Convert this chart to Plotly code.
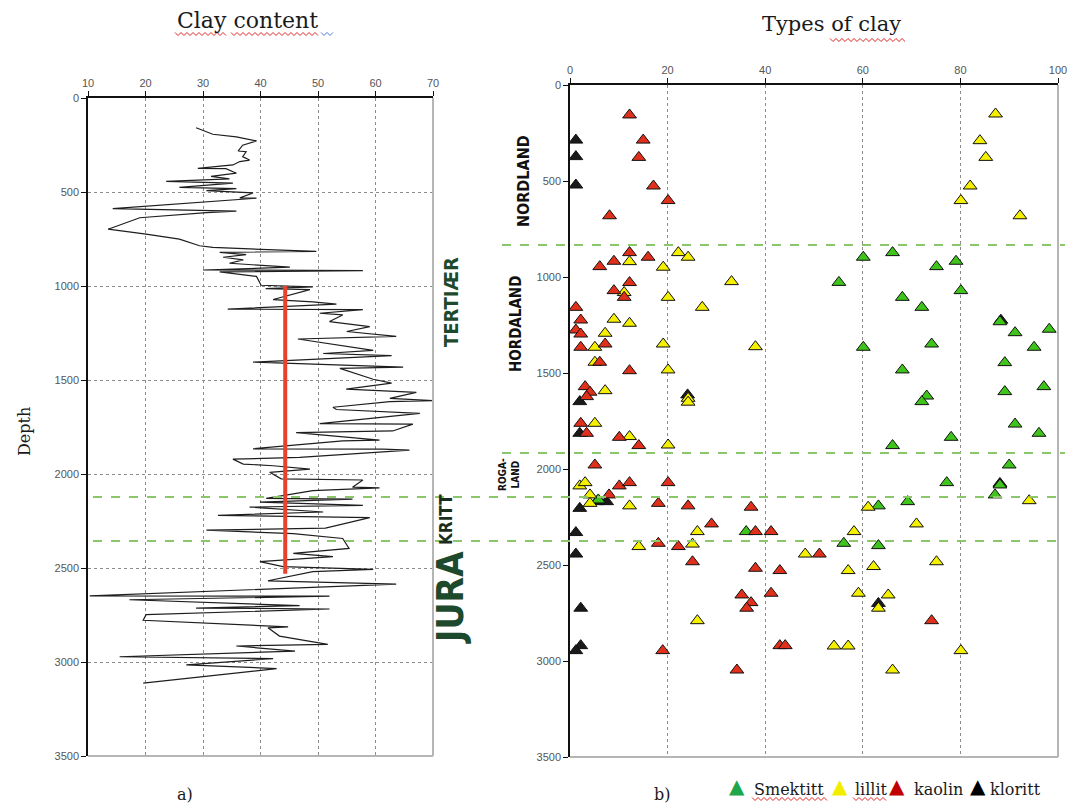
import plotly.graph_objects as go

W, H = 1076, 805

# ---------------- data: clay content (left panel) ----------------
clay_value = [28.8, 31.7, 35.8, 39.3, 36.9, 36.1, 37.5, 36.9, 38.1, 36.4, 35.2, 29.1, 34.0,
              35.8, 31.4, 34.6, 23.6, 35.2, 25.9, 35.8, 30.6, 38.7, 36.4, 39.3, 14.3, 35.8,
              30.6, 19.0, 13.5, 20.1, 25.9, 29.4, 31.7, 49.7, 32.9, 37.5, 33.5, 37.0, 34.6,
              45.1, 30.0, 57.8, 32.9, 39.3, 40.1, 49.1, 40.9, 48.6, 42.2, 49.1, 53.2, 34.3,
              57.8, 50.3, 54.3, 52.0, 59.0, 55.0, 63.6, 46.5, 59.6, 50.9, 62.8, 38.7, 64.8,
              53.8, 59.6, 62.8, 54.9, 67.1, 62.5, 70.0, 62.5, 52.6, 53.2, 67.7, 50.3, 66.5,
              63.0, 46.2, 60.7, 54.3, 38.7, 61.3, 65.9, 46.8, 35.2, 37.0, 42.2, 48.6, 41.6,
              43.6, 57.8, 56.0, 60.7, 49.1, 41.0, 56.0, 39.9, 57.8, 38.1, 50.9, 32.6, 59.0,
              51.3, 30.6, 45.7, 54.3, 55.4, 45.7, 52.6, 39.9, 43.9, 59.6, 49.1, 41.3, 63.6,
              10.3, 52.0, 17.2, 46.8, 28.8, 52.0, 20.1, 19.6, 44.8, 41.3, 43.3, 51.7, 35.8,
              46.0, 15.5, 42.2, 27.1, 42.8, 19.6]
clay_depth = [158, 193, 207, 228, 251, 282, 286, 312, 330, 338, 356, 374, 376,
              400, 417, 430, 444, 453, 475, 482, 493, 505, 531, 533, 588, 602,
              610, 637, 698, 724, 751, 786, 795, 816, 821, 833, 847, 861, 879,
              900, 915, 918, 925, 949, 996, 1005, 1014, 1019, 1072, 1084, 1096, 1123,
              1126, 1145, 1154, 1189, 1216, 1242, 1268, 1282, 1342, 1359, 1370, 1405, 1432,
              1438, 1496, 1517, 1549, 1566, 1598, 1610, 1615, 1645, 1657, 1678, 1732, 1735,
              1771, 1780, 1820, 1824, 1866, 1868, 1873, 1912, 1921, 1947, 1956, 1974, 1991,
              2026, 2032, 2070, 2074, 2088, 2130, 2134, 2150, 2167, 2176, 2202, 2220, 2232,
              2288, 2299, 2317, 2343, 2396, 2422, 2440, 2466, 2493, 2507, 2519, 2568, 2586,
              2648, 2650, 2669, 2700, 2713, 2718, 2748, 2778, 2813, 2818, 2862, 2906, 2915,
              2942, 2972, 2982, 3015, 3035, 3112]

avg_value = [44.3, 44.3]
avg_depth = [1000, 2530]

# ---------------- data: types of clay (right panel) ----------------
smektitt_pct = [60.1, 66.1, 79.1, 75.1, 55.1, 80.1, 68.1, 72.1, 88.1, 91.2, 98.2, 60.1, 74.1,
                95.1, 89.1, 68.1, 89.1, 97.1, 73.1, 72.1, 91.2, 96.1, 78.1, 66.1, 90.0,
                77.2, 88.1, 87.1, 69.2, 63.2, 56.1, 63.2, 36.1, 5.8]
smektitt_depth = [897, 873, 918, 946, 1028, 1071, 1106, 1158, 1233, 1290, 1272, 1366, 1349,
                  1366, 1446, 1484, 1597, 1571, 1620, 1649, 1766, 1814, 1835, 1878, 1979,
                  2071, 2083, 2135, 2170, 2192, 2387, 2399, 2326, 2161]

illit_pct = [87.2, 84.0, 85.2, 82.0, 80.1, 92.2,
             12.2, 22.2, 24.2, 19.1, 33.1, 11.1, 20.1, 27.1, 9.0, 12.2, 7.2, 5.1, 5.1, 19.1,
             38.0, 20.1, 7.2, 24.2, 24.2, 5.1, 12.2, 20.1,
             2.0, 3.1, 4.1, 4.1, 12.2, 26.1, 14.1, 25.1, 26.1,
             94.1, 61.1, 71.0, 58.2, 48.2, 75.1, 57.0, 62.2, 59.1, 65.2, 63.2, 54.1, 57.0,
             80.1, 66.1]
illit_depth = [151, 290, 377, 526, 602, 681,
               920, 873, 897, 949, 1024, 1081, 1106, 1158, 1220, 1241, 1293, 1366, 1444, 1349,
               1363, 1484, 1592, 1632, 1652, 1762, 1831, 1875,
               2088, 2071, 2135, 2179, 2192, 2326, 2404, 2391, 2790,
               2165, 2199, 2286, 2326, 2443, 2483, 2529, 2508, 2647, 2656, 2725, 2922, 2922,
               2946, 3047]

kaolin_pct = [12.2, 15.0, 14.1, 17.1, 20.1, 8.1, 12.2, 16.0, 9.0, 6.1, 12.2, 9.0, 11.1,
              1.2, 2.2, 1.2, 2.2, 2.2, 7.2, 6.1, 12.2, 3.1, 4.1, 3.4, 2.2, 3.4, 10.1, 14.1,
              5.1, 10.1, 12.2, 20.1, 8.0, 18.1, 24.2, 37.1, 29.0, 38.0, 41.2, 18.1, 22.2,
              25.1, 38.0, 43.0, 35.2, 41.2, 37.1, 36.2, 43.0, 44.1, 19.0, 34.2, 51.1, 74.1]
kaolin_depth = [156, 287, 377, 526, 602, 681, 873, 897, 918, 946, 1029, 1071, 1106,
                1158, 1224, 1276, 1297, 1366, 1349, 1444, 1488, 1571, 1600, 1623, 1762, 1814, 1835, 1878,
                1979, 2088, 2071, 2071, 2135, 2179, 2192, 2199, 2286, 2326, 2326, 2387, 2404,
                2483, 2517, 2529, 2656, 2647, 2696, 2725, 2920, 2920, 2946, 3047, 2443, 2790]

kloritt_pct = [1.2, 1.2, 1.2, 2.0, 2.0, 2.0, 5.5, 7.5, 1.2, 1.2, 2.2, 2.2, 1.2,
               88.3, 88.1, 63.2, 24.1]
kloritt_depth = [287, 373, 521, 1649, 1814, 2205, 2170, 2170, 2331, 2443, 2725, 2920, 2946,
                 1225, 2075, 2700, 1614]

left_ticks = [10, 20, 30, 40, 50, 60, 70]
right_ticks = [0, 20, 40, 60, 80, 100]
depth_ticks = [0, 500, 1000, 1500, 2000, 2500, 3000, 3500]


def px(x):
    return x / W


def py(y):
    return 1 - y / H


fig = go.Figure()

fig.add_trace(go.Scatter(x=clay_value, y=clay_depth, mode="lines",
                         line=dict(color="#1e1e1e", width=1.2),
                         xaxis="x", yaxis="y", showlegend=False, hoverinfo="skip"))
fig.add_trace(go.Scatter(x=avg_value, y=avg_depth, mode="lines",
                         line=dict(color="#e8412e", width=4),
                         xaxis="x", yaxis="y", showlegend=False))

mk = dict(symbol="triangle-up", size=12, line=dict(color="#111", width=1))
for xs, ys, col in [(kloritt_pct, kloritt_depth, "#1a1a1a"),
                    (smektitt_pct, smektitt_depth, "#3ec41a"),
                    (illit_pct, illit_depth, "#f4f000"),
                    (kaolin_pct, kaolin_depth, "#e0301c")]:
    fig.add_trace(go.Scatter(x=xs, y=ys, mode="markers",
                             marker=dict(color=col, **mk),
                             xaxis="x2", yaxis="y2", showlegend=False))

tickfont = dict(family="Liberation Sans, Arial, sans-serif", size=11, color="#555555")
axis_common = dict(showline=True, linecolor="#111", linewidth=1.5, ticks="outside",
                   ticklen=5, tickcolor="#111", tickwidth=1, tickfont=tickfont,
                   zeroline=False, gridcolor="#8c8c8c", griddash="dot", gridwidth=1,
                   automargin=False)

fig.update_layout(
    width=W, height=H,
    margin=dict(l=0, r=0, t=0, b=0, autoexpand=False),
    paper_bgcolor="white", plot_bgcolor="white",
    xaxis=dict(domain=[px(88), px(433)], range=[10, 70], side="top", anchor="y",
               tickvals=left_ticks, showgrid=True, **axis_common),
    yaxis=dict(domain=[py(756), py(98)], range=[3500, 0], anchor="x",
               tickvals=depth_ticks, showgrid=True, **axis_common),
    xaxis2=dict(domain=[px(570), px(1058)], range=[0, 100], side="top", anchor="y2",
                tickvals=right_ticks, showgrid=True, **axis_common),
    yaxis2=dict(domain=[py(757), py(85)], range=[3500, 0], anchor="x2",
                tickvals=depth_ticks, showgrid=False, **axis_common),
)

shapes = []
# gray right and bottom frame edges
for xr, yr in [("x", "y"), ("x2", "y2")]:
    shapes.append(dict(type="line", xref=f"{xr} domain", yref=f"{yr} domain",
                       x0=1, x1=1, y0=0, y1=1, line=dict(color="#b5b5b5", width=2)))
    shapes.append(dict(type="line", xref=f"{xr} domain", yref=f"{yr} domain",
                       x0=0, x1=1, y0=0, y1=0, line=dict(color="#b5b5b5", width=2)))

# green dashed boundaries
green = dict(color="#8cc66a", width=2, dash="dash")
for y in [497, 541]:
    shapes.append(dict(type="line", xref="paper", yref="paper",
                       x0=px(93), x1=px(1065), y0=py(y), y1=py(y), line=green))
for y in [245, 453]:
    shapes.append(dict(type="line", xref="paper", yref="paper",
                       x0=px(502), x1=px(1065), y0=py(y), y1=py(y), line=green))


def squiggle(x0, x1, y, color):
    pts = []
    x = x0
    k = 0
    while x <= x1:
        yy = y + (1.5 if k % 2 else -1.5)
        pts.append(f"{px(x):.5f},{py(yy):.5f}")
        x += 3
        k += 1
    path = "M" + " L".join(pts)
    return dict(type="path", xref="paper", yref="paper", path=path,
                line=dict(color=color, width=1))


shapes.append(squiggle(175, 227, 34, "#e02828"))
shapes.append(squiggle(231, 320, 34, "#e02828"))
shapes.append(squiggle(321, 334, 34, "#4a7de0"))
shapes.append(squiggle(830, 906, 40, "#e02828"))
shapes.append(squiggle(752, 827, 799, "#e02828"))
shapes.append(squiggle(853, 887, 799, "#e02828"))
fig.update_layout(shapes=shapes)

serif = "DejaVu Serif, Liberation Serif, serif"
narrow = "DejaVu Sans Condensed, Liberation Sans Narrow, sans-serif"
ann = []


def text(x, y, t, size, family=serif, color="#1a1a1a", angle=0, xanchor="center"):
    ann.append(dict(x=px(x), y=py(y), xref="paper", yref="paper", text=t,
                    showarrow=False, textangle=angle, xanchor=xanchor, yanchor="middle",
                    font=dict(family=family, size=size, color=color)))


text(247, 21, "Clay content", 22)
text(831, 24, "Types of clay", 21)
text(25, 432, "Depth", 16, angle=-90)
text(185, 794, "a)", 16)
text(662, 794, "b)", 16)

dg = "#1d4a2c"
text(451, 302, "<b>TERTIÆR</b>", 20, narrow, dg, -90)
text(446, 520, "<b>KRITT</b>", 17, narrow, "#1a2e20", -90)
text(450, 598, "<b>JURA</b>", 37, narrow, dg, -90)
text(523, 181, "<b>NORDLAND</b>", 16, narrow, "#111", -90)
text(516, 324, "<b>HORDALAND</b>", 15, narrow, "#111", -90)
text(509, 475, "<b>ROGA-<br>LAND</b>", 10, narrow, "#111", -90)

# legend
tri = "DejaVu Sans, sans-serif"
text(737, 786, "▲", 20, tri, "#1ea64a")
text(752, 789, "Smektitt", 16, xanchor="left")
text(840, 786, "▲", 20, tri, "#f2ee00")
text(853, 789, "lillit", 16, xanchor="left")
text(897, 786, "▲", 20, tri, "#c00000")
text(912, 789, "kaolin", 16, xanchor="left")
text(978, 786, "▲", 20, tri, "#000000")
text(988, 789, "kloritt", 16, xanchor="left")

fig.update_layout(annotations=ann)

fig.write_html("out.html",
               config={"displayModeBar": False},
               post_script="document.body.style.margin='0px';document.body.style.overflow='hidden';")
